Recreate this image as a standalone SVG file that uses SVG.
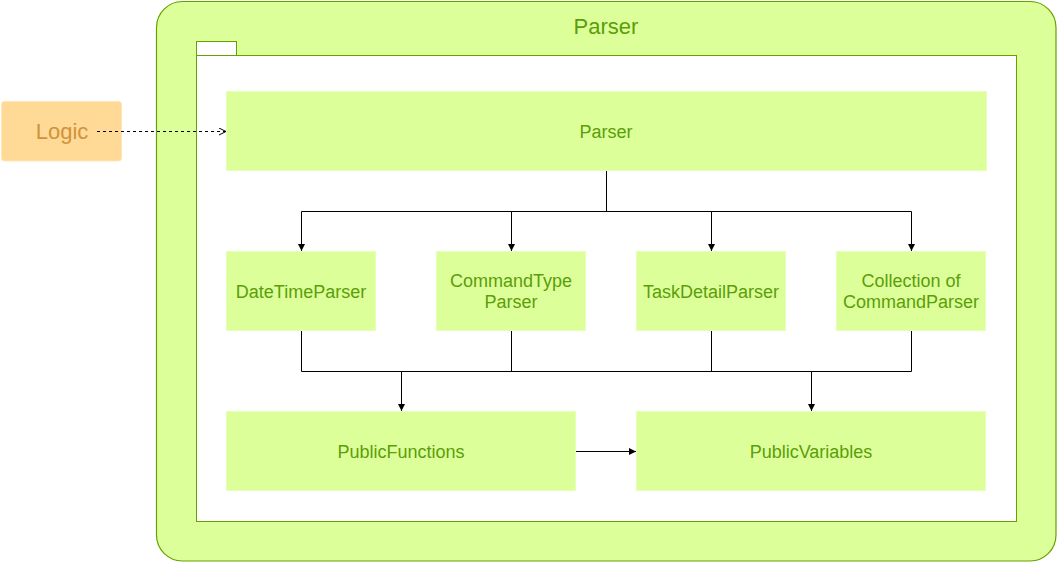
<svg xmlns="http://www.w3.org/2000/svg" width="1058" height="563" viewBox="0 0 1058 563">
<defs>
<style>
.box{fill:#DDFF99;stroke:#E6FFB8;stroke-width:1}
.lbl{font-family:"Liberation Sans",Arial,sans-serif;font-size:18px;fill:#5A9E0A;text-anchor:middle}
.edge{fill:none;stroke:#000;stroke-width:1}
</style>
<marker id="arr" markerWidth="8" markerHeight="8" refX="7" refY="4" orient="auto" markerUnits="userSpaceOnUse">
<path d="M0,0.5 L7,4 L0,7.5 Z" fill="#000"/>
</marker>
<marker id="open" markerWidth="10" markerHeight="10" refX="8" refY="4" orient="auto" markerUnits="userSpaceOnUse">
<path d="M1,0.5 L8,4 L1,7.5" fill="none" stroke="#000" stroke-width="1"/>
</marker>
</defs>
<g id="container">
<rect x="156.5" y="1.5" width="899.5" height="559.5" rx="26" ry="26" fill="#DDFF99" stroke="#66A000" stroke-width="1.2"/>
<text x="606" y="34" class="lbl" style="font-size:22px">Parser</text>
<rect x="196.5" y="41.5" width="40" height="14" fill="#FFFFFF" stroke="#66A000"/>
<rect x="196.5" y="55.5" width="820" height="466" fill="#FFFFFF" stroke="#66A000"/>
</g>
<g id="logic">
<rect x="1.5" y="101.5" width="120" height="59.5" rx="3" fill="#FFD996" stroke="#FFE5B8"/>
<text x="62" y="139" style="font-family:'Liberation Sans',Arial,sans-serif;font-size:22px;fill:#CF943A;text-anchor:middle">Logic</text>
</g>
<g id="parser"><rect class="box" x="226.5" y="91.5" width="760" height="79"/><text class="lbl" x="606" y="137.5">Parser</text></g>
<g id="datetime"><rect class="box" x="226.5" y="251.5" width="149" height="79"/><text class="lbl" x="301" y="297.5">DateTimeParser</text></g>
<g id="commandtype"><rect class="box" x="436.5" y="251.5" width="149" height="79"/><text class="lbl" x="511" y="287">CommandType</text><text class="lbl" x="511" y="308">Parser</text></g>
<g id="taskdetail"><rect class="box" x="636.5" y="251.5" width="149" height="79"/><text class="lbl" x="711" y="297.5">TaskDetailParser</text></g>
<g id="collection"><rect class="box" x="836.5" y="251.5" width="149" height="79"/><text class="lbl" x="911" y="287">Collection of</text><text class="lbl" x="911" y="308">CommandParser</text></g>
<g id="publicfunctions"><rect class="box" x="226.5" y="411.5" width="349" height="79"/><text class="lbl" x="401" y="457.5">PublicFunctions</text></g>
<g id="publicvariables"><rect class="box" x="636.5" y="411.5" width="349" height="79"/><text class="lbl" x="811" y="457.5">PublicVariables</text></g>
<g id="connectors">
<path class="edge" d="M97,131.5 H226" stroke-dasharray="3,3" marker-end="url(#open)"/>
<path class="edge" d="M606.5,171 V211.5 M301.5,211.5 H911.5"/>
<path class="edge" d="M301.5,211.5 V251" marker-end="url(#arr)"/>
<path class="edge" d="M511.5,211.5 V251" marker-end="url(#arr)"/>
<path class="edge" d="M711.5,211.5 V251" marker-end="url(#arr)"/>
<path class="edge" d="M911.5,211.5 V251" marker-end="url(#arr)"/>
<path class="edge" d="M301.5,331 V371.5 H911.5 V331 M511.5,331 V371.5 M711.5,331 V371.5"/>
<path class="edge" d="M401.5,371.5 V411" marker-end="url(#arr)"/>
<path class="edge" d="M811.5,371.5 V411" marker-end="url(#arr)"/>
<path class="edge" d="M576,451.5 H636" marker-end="url(#arr)"/>
</g>
</svg>
